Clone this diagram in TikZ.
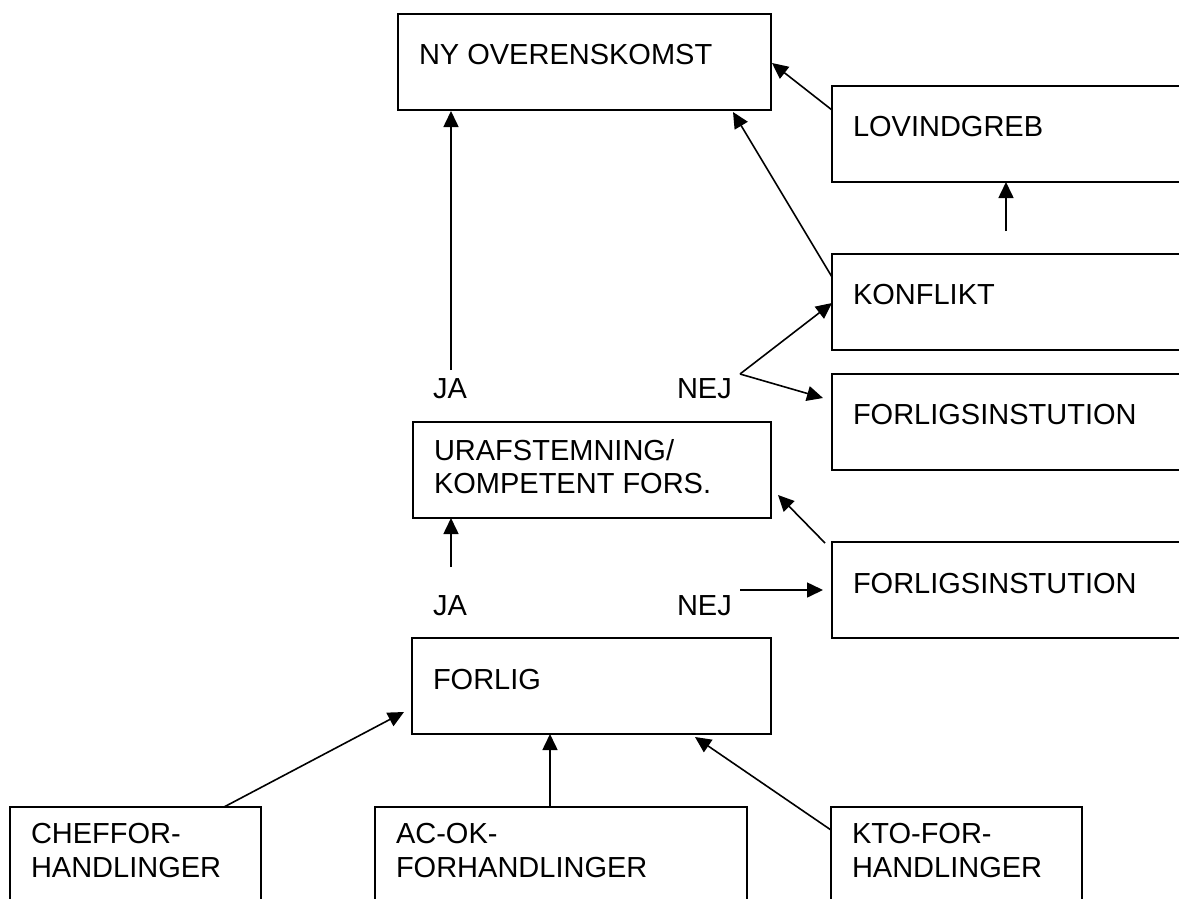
\documentclass[tikz,border=0pt]{standalone}
\usepackage{fontspec}
\setmainfont{Liberation Sans}
\usetikzlibrary{arrows.meta,calc}
\begin{document}
\begin{tikzpicture}[x=1pt,y=-1pt,
  box/.style={draw=black,line width=1.7pt,rectangle,inner sep=0pt,outer sep=0pt,anchor=north west},
  lbl/.style={inner sep=0pt,outer sep=0pt,anchor=base west,align=left,font=\fontsize{29}{33.5}\selectfont},
  arr/.style={line width=1.6pt,-{Triangle[length=16pt,width=15pt]}},
  ln/.style={line width=1.6pt}]
\useasboundingbox (0,0) rectangle (1179,898);
\clip (0,0) rectangle (1179,898);
\fill[white] (0,0) rectangle (1179,898);
% boxes
\node[box,minimum width=373pt,minimum height=96pt] (ny) at (398,14) {};
\node[box,minimum width=370pt,minimum height=96pt] (lov) at (832,86) {};
\node[box,minimum width=370pt,minimum height=96pt] (konf) at (832,254) {};
\node[box,minimum width=370pt,minimum height=96pt] (fi1) at (832,374) {};
\node[box,minimum width=358pt,minimum height=96pt] (ura) at (413,422) {};
\node[box,minimum width=370pt,minimum height=96pt] (fi2) at (832,542) {};
\node[box,minimum width=359pt,minimum height=96pt] (forlig) at (412,638) {};
\node[box,minimum width=251pt,minimum height=110pt] (chef) at (10,807) {};
\node[box,minimum width=372pt,minimum height=110pt] (acok) at (375,807) {};
\node[box,minimum width=251pt,minimum height=110pt] (kto) at (831,807) {};
% texts (multi-line nodes: base anchor is on the last line)
\node[lbl] (nyt) at ($(ny.north west)+(21,50)$) {NY OVERENSKOMST};
\node[lbl] (lovt) at ($(lov.north west)+(21,50)$) {LOVINDGREB};
\node[lbl] (konft) at ($(konf.north west)+(21,50)$) {KONFLIKT};
\node[lbl] (fi1t) at ($(fi1.north west)+(21,50)$) {FORLIGSINSTUTION};
\node[lbl] (urat) at ($(ura.north west)+(21,71.5)$) {URAFSTEMNING/\\KOMPETENT FORS.};
\node[lbl] (fi2t) at ($(fi2.north west)+(21,51)$) {FORLIGSINSTUTION};
\node[lbl] (forligt) at ($(forlig.north west)+(21,51)$) {FORLIG};
\node[lbl] (cheft) at ($(chef.north west)+(21,70)$) {CHEFFOR-\\HANDLINGER};
\node[lbl] (acokt) at ($(acok.north west)+(21,70)$) {AC-OK-\\FORHANDLINGER};
\node[lbl] (ktot) at ($(kto.north west)+(21,70)$) {KTO-FOR-\\HANDLINGER};
% labels
\node[lbl] (ja1) at (433,398) {JA};
\node[lbl] (nej1) at (677,398) {NEJ};
\node[lbl] (ja2) at (433,615) {JA};
\node[lbl] (nej2) at (677,615) {NEJ};
% connector coordinates
\coordinate (a1) at (451,370);
\coordinate (a1e) at (451,111);
\coordinate (k1) at (832,277);
\coordinate (k1e) at (733,112);
\coordinate (l1) at (832,110);
\coordinate (l1e) at (772,63);
\coordinate (l2) at (1006,231);
\coordinate (nv) at (740,374);
\coordinate (nk) at (832,303);
\coordinate (nf) at (823,398);
\coordinate (u1) at (451,567);
\coordinate (f2) at (825,543);
\coordinate (f2e) at (778,495);
\coordinate (n2) at (740,590);
\coordinate (n2e) at (823,590);
\coordinate (c1) at (224,807);
\coordinate (c1e) at (404,712);
\coordinate (ac1) at (550,807);
\coordinate (kt1) at (831,830);
\coordinate (kt1e) at (695,737);
% connectors
\draw[arr] (a1) -- (a1e);
\draw[arr] (k1) -- (k1e);
\draw[arr] (l1) -- (l1e);
\draw[arr] (l2) -- (l2 |- lov.south);
\draw[arr] (nv) -- (nk);
\draw[arr] (nv) -- (nf);
\draw[arr] (u1) -- (u1 |- ura.south);
\draw[arr] (f2) -- (f2e);
\draw[arr] (n2) -- (n2e);
\draw[arr] (c1) -- (c1e);
\draw[arr] (ac1) -- (ac1 |- forlig.south);
\draw[arr] (kt1) -- (kt1e);
\end{tikzpicture}
\end{document}
